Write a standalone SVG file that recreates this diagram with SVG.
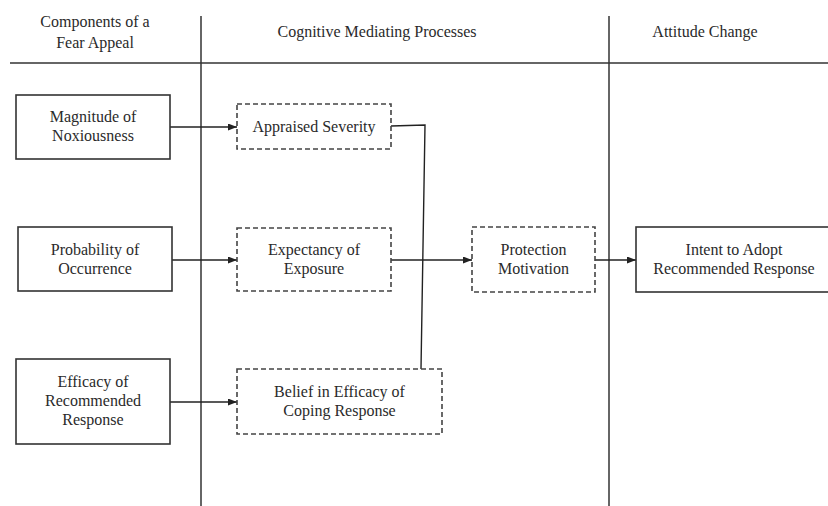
<svg xmlns="http://www.w3.org/2000/svg" width="828" height="506" viewBox="0 0 828 506">
<style>
text{font-family:"Liberation Serif","Times New Roman",serif;font-size:16px;fill:#2a2a2a;text-anchor:middle}
.solid{fill:#fff;stroke:#333;stroke-width:1.6}
.dash{fill:#fff;stroke:#444;stroke-width:1.6;stroke-dasharray:5 3}
.grid{stroke:#333;stroke-width:1.5;fill:none}
.conn{stroke:#222;stroke-width:1.4;fill:none}
</style>
<defs>
<marker id="ah" markerWidth="9" markerHeight="7" refX="9" refY="3.5" orient="auto" markerUnits="userSpaceOnUse">
<path d="M0,0 L9,3.5 L0,7 Z" fill="#222"/>
</marker>
</defs>
<g id="grid">
<line class="grid" x1="10" y1="63" x2="828" y2="63" stroke-width="2.2"/>
<line class="grid" x1="201" y1="16" x2="201" y2="506"/>
<line class="grid" x1="609" y1="16" x2="609" y2="506"/>
</g>
<g id="headers">
<text x="95" y="27">Components of a</text>
<text x="95" y="48">Fear Appeal</text>
<text x="377" y="37">Cognitive Mediating Processes</text>
<text x="705" y="37">Attitude Change</text>
</g>
<g id="connectors">
<line class="conn" x1="170" y1="127" x2="237" y2="127" marker-end="url(#ah)"/>
<line class="conn" x1="172" y1="260" x2="237" y2="260" marker-end="url(#ah)"/>
<line class="conn" x1="170" y1="402" x2="237" y2="402" marker-end="url(#ah)"/>
<line class="conn" x1="391" y1="260" x2="472" y2="260" marker-end="url(#ah)"/>
<line class="conn" x1="595" y1="260" x2="636" y2="260" marker-end="url(#ah)"/>
<polyline class="conn" points="391,126 425,125 421,369"/>
</g>
<g id="magnitude">
<rect class="solid" x="16" y="95" width="154" height="64"/>
<text x="93" y="122">Magnitude of</text>
<text x="93" y="141">Noxiousness</text>
</g>
<g id="probability">
<rect class="solid" x="18" y="227" width="154" height="64"/>
<text x="95" y="255">Probability of</text>
<text x="95" y="274">Occurrence</text>
</g>
<g id="efficacy">
<rect class="solid" x="16" y="359" width="154" height="85"/>
<text x="93" y="387">Efficacy of</text>
<text x="93" y="406">Recommended</text>
<text x="93" y="425">Response</text>
</g>
<g id="severity">
<rect class="dash" x="237" y="104" width="154" height="45"/>
<text x="314" y="132">Appraised Severity</text>
</g>
<g id="expectancy">
<rect class="dash" x="237" y="228" width="154" height="63"/>
<text x="314" y="255">Expectancy of</text>
<text x="314" y="274">Exposure</text>
</g>
<g id="belief">
<rect class="dash" x="237" y="369" width="205" height="65"/>
<text x="339.5" y="397">Belief in Efficacy of</text>
<text x="339.5" y="416">Coping Response</text>
</g>
<g id="protection">
<rect class="dash" x="472" y="227" width="123" height="65"/>
<text x="533.5" y="255">Protection</text>
<text x="533.5" y="274">Motivation</text>
</g>
<g id="intent">
<rect class="solid" x="636" y="227" width="196" height="65"/>
<text x="734" y="255">Intent to Adopt</text>
<text x="734" y="274">Recommended Response</text>
</g>
</svg>
